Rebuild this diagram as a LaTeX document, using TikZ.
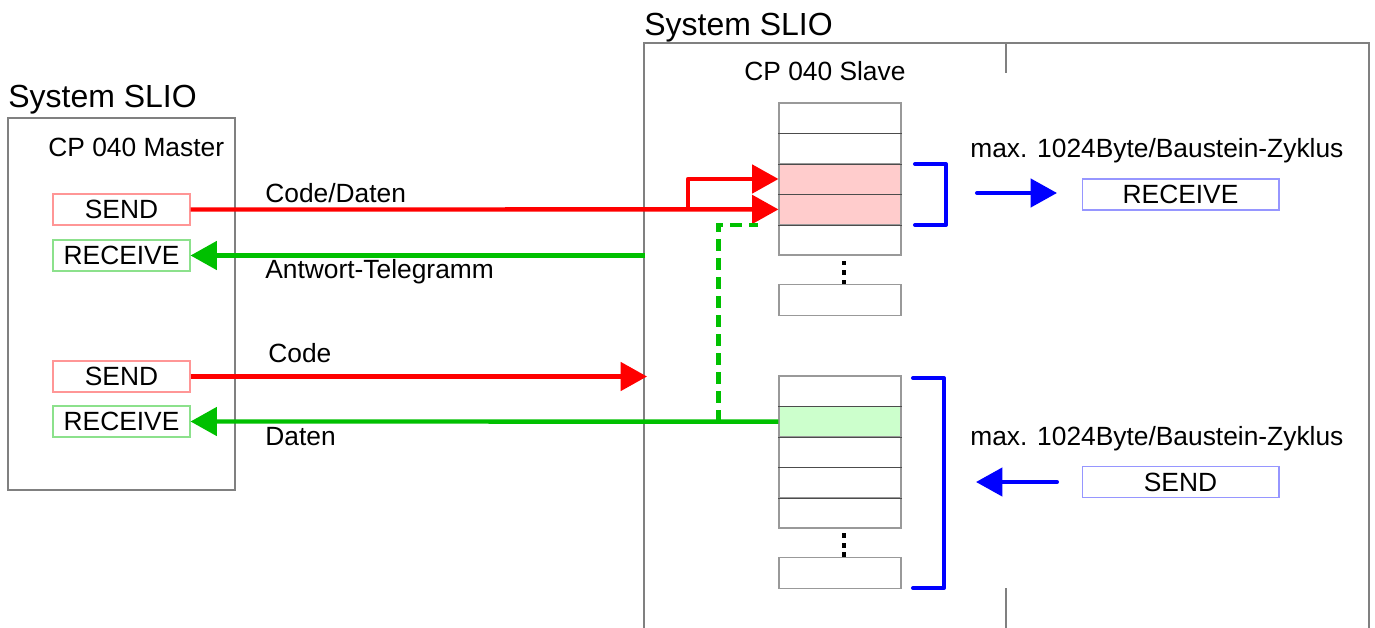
\documentclass[tikz,border=0pt]{standalone}
\usepackage{fontspec}
\setmainfont{Liberation Sans}
\usetikzlibrary{arrows.meta}
\definecolor{cred}{RGB}{255,0,0}
\definecolor{cgreen}{RGB}{0,192,0}
\definecolor{cblue}{RGB}{0,0,255}
\definecolor{pinkfill}{RGB}{255,204,204}
\definecolor{greenfill}{RGB}{204,255,204}
\definecolor{redborder}{RGB}{255,150,150}
\definecolor{greenborder}{RGB}{140,225,140}
\definecolor{blueborder}{RGB}{150,150,255}
\begin{document}
\begin{tikzpicture}[x=0.02cm,y=-0.02cm,
  >={Triangle[length=15pt,width=16pt]},
  lbl/.style={font=\fontsize{15pt}{18pt}\selectfont, inner sep=0pt, anchor=base west},
  title/.style={font=\fontsize{18.2pt}{22pt}\selectfont, inner sep=0pt, anchor=base west},
  frame/.style={draw=black!50, line width=0.6pt},
  fbox/.style={line width=0.6pt, minimum height=0.62cm, inner sep=0pt, font=\fontsize{15pt}{18pt}\selectfont},
  sendbox/.style={fbox, draw=redborder, minimum width=2.74cm},
  recvbox/.style={fbox, draw=greenborder, minimum width=2.74cm},
  bluebox/.style={fbox, draw=blueborder, minimum width=3.94cm},
  cell/.style={draw=black!40, line width=0.6pt, minimum width=2.44cm, minimum height=0.608cm, inner sep=0pt},
  sep/.style={draw=black!70, line width=0.6pt},
  redline/.style={draw=cred, line width=2.5pt, line join=round},
  greenline/.style={draw=cgreen, line width=2.5pt, line join=round},
  greendash/.style={draw=cgreen, line width=2.3pt, dash pattern=on 6.8pt off 4pt},
  bracket/.style={draw=cblue, line width=2.3pt, line cap=round, line join=round},
  bluearrow/.style={draw=cblue, line width=2.3pt, line cap=round},
  dotsq/.style={fill=black}
]
\useasboundingbox (0,0) rectangle (1375,628);

% left system
\node[title] (t1) at (8,108) {System SLIO};
\draw[frame] (8,118) rectangle (235,490);
\node[lbl] (master) at (48,157) {CP 040 Master};
\node[sendbox] (s1) at (121.5,209.5) {SEND};
\node[recvbox] (r1) at (121.5,255.5) {RECEIVE};
\node[sendbox] (s2) at (121.5,376.5) {SEND};
\node[recvbox] (r2) at (121.5,421.5) {RECEIVE};

% right system
\node[title] (t2) at (644,36) {System SLIO};
\draw[frame] (644,628) -- (644,43) -- (1369,43) -- (1369,628);
\draw[frame] (1006,43) -- (1006,73);
\draw[frame] (1006,588) -- (1006,628);
\node[lbl] (slave) at (744,81) {CP 040 Slave};

% upper stack
\node[cell] (a1) at (840,118.2) {};
\node[cell] (a2) at (840,148.6) {};
\node[cell, fill=pinkfill] (a3) at (840,179) {};
\node[cell, fill=pinkfill] (a4) at (840,209.4) {};
\node[cell] (a5) at (840,239.8) {};
\node[cell] (a6) at (840,300) {};
\foreach \c in {a1,a2,a3,a4} \draw[sep] (\c.south west) -- (\c.south east);
\foreach \y in {263,272.5,282} \fill[dotsq] (841.8,\y-2.3) rectangle (846.2,\y+2.3);

% lower stack
\node[cell] (b1) at (840,391.2) {};
\node[cell, fill=greenfill] (b2) at (840,421.6) {};
\node[cell] (b3) at (840,452) {};
\node[cell] (b4) at (840,482.4) {};
\node[cell] (b5) at (840,512.8) {};
\node[cell] (b6) at (840,573) {};
\foreach \c in {b1,b2,b3,b4} \draw[sep] (\c.south west) -- (\c.south east);
\foreach \y in {535.3,545.3,554.7} \fill[dotsq] (841.8,\y-2.3) rectangle (846.2,\y+2.3);

% brackets
\draw[bracket] (915,164) -- (946,164) -- (946,225) -- (915,225);
\draw[bracket] (913,378) -- (944,378) -- (944,588) -- (913,588);

% right texts and boxes
\node[lbl] (max1) at (970,158) {max. 1024Byte/Baustein-Zyklus};
\node[bluebox] (rr) at (1180.5,194.5) {RECEIVE};
\node[lbl] (max2) at (970,445) {max. 1024Byte/Baustein-Zyklus};
\node[bluebox] (rs) at (1180.5,482) {SEND};
\coordinate (ba1) at (977,193);
\coordinate (ba2) at (1057,193);
\draw[bluearrow,->] (ba1) -- (ba2);
\coordinate (bb1) at (1057,482);
\coordinate (bb2) at (976,482);
\draw[bluearrow,->] (bb1) -- (bb2);

% connectors
\coordinate (br) at (688,209.4);
\draw[redline,->] (s1.east) -- (a4.west);
\draw[redline,->] (br) |- (a3.west);
\coordinate (g1) at (645,255.5);
\draw[greenline,->] (g1) -- (r1.east);
\coordinate (c2) at (647,376.5);
\draw[redline,->] (s2.east) -- (c2);
\draw[greenline,->] (b2.west) -- (r2.east);
\coordinate (dj) at (718.5,421.5);
\coordinate (de) at (758,224.6);
\draw[greendash] (dj) |- (de);

% labels
\node[lbl] (l1) at (265,203) {Code/Daten};
\node[lbl] (l2) at (265,278) {Antwort-Telegramm};
\node[lbl] (l3) at (268,362) {Code};
\node[lbl] (l4) at (265,445) {Daten};
\end{tikzpicture}
\end{document}
